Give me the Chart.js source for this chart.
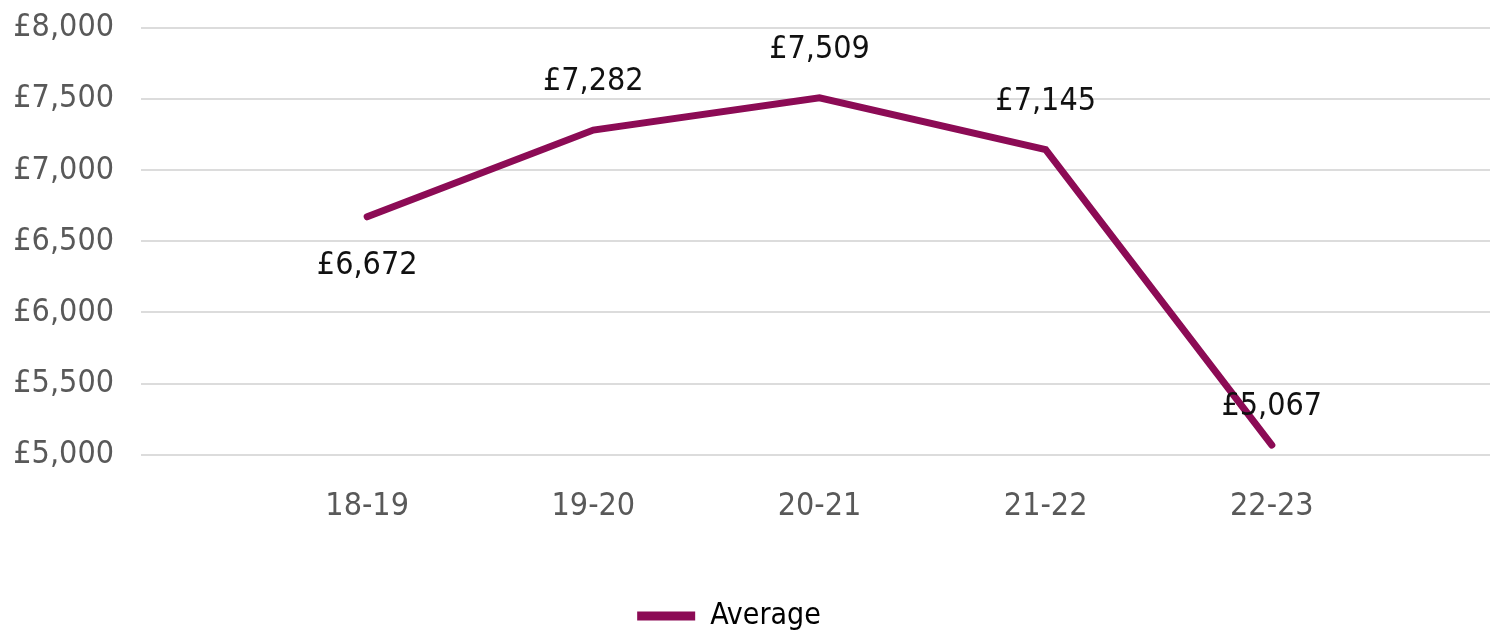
<!DOCTYPE html>
<html>
<head>
<meta charset="utf-8">
<script src="https://cdn.jsdelivr.net/npm/chart.js@4"></script>
<style>
  html, body { margin: 0; padding: 0; background: #ffffff; overflow: hidden; }
  #wrap { width: 1500px; height: 633px; position: relative; }
  canvas { display: block; }
</style>
</head>
<body>
<div id="wrap"><canvas id="c" width="1500" height="633"></canvas></div>
<script>
// ---- data ----
const categories = ['18-19', '19-20', '20-21', '21-22', '22-23'];
const averageValues = [6672, 7282, 7509, 7145, 5067];
const yTicks = [5000, 5500, 6000, 6500, 7000, 7500, 8000];
const seriesName = 'Average';

// ---- styling ----
const FONT = "'Liberation Sans Narrow', 'DejaVu Sans Condensed', 'Arial Narrow', sans-serif";
const LINE_COLOR = '#8C0B55';
const labelPlacement = ['below', 'above', 'above', 'above', 'above'];

// padded category axis: one empty slot each side
const xLabels = [''].concat(categories, ['']);
const yData = [null].concat(averageValues, [null]);

const fmt = v => '£' + v.toLocaleString('en-GB');

const dataLabelPlugin = {
  id: 'valueLabels',
  afterLayout(chart) {
    const lg = chart.legend;
    if (lg) {
      lg.left -= 20; lg.right -= 20;
      lg.top += 8; lg.bottom += 8;
    }
  },
  afterDatasetsDraw(chart) {
    const meta = chart.getDatasetMeta(0);
    const ctx = chart.ctx;
    ctx.save();
    ctx.font = '32px ' + FONT;
    ctx.fillStyle = '#111111';
    ctx.textAlign = 'center';
    ctx.textBaseline = 'middle';
    meta.data.forEach((pt, i) => {
      const v = yData[i];
      if (v == null) return;
      const k = i - 1;
      let dy = labelPlacement[k] === 'below' ? 49 : -48;
      if (k === categories.length - 1) dy = -38;
      ctx.fillText(fmt(v), pt.x, pt.y + dy);
    });
    ctx.restore();
  }
};

new Chart(document.getElementById('c'), {
  type: 'line',
  data: {
    labels: xLabels,
    datasets: [{
      label: seriesName,
      data: yData,
      borderColor: LINE_COLOR,
      backgroundColor: LINE_COLOR,
      borderWidth: 7,
      pointRadius: 0,
      pointHoverRadius: 0,
      tension: 0,
      borderJoinStyle: 'miter',
      borderCapStyle: 'round'
    }]
  },
  options: {
    responsive: false,
    maintainAspectRatio: false,
    animation: false,
    layout: { padding: { top: 28, right: 2, left: 0, bottom: 0 } },
    plugins: {
      tooltip: { enabled: false },
      legend: {
        position: 'bottom',
        labels: {
          font: { family: FONT, size: 30, lineHeight: 1 },
          color: '#333333',
          boxWidth: 58,
          boxHeight: 9,
          padding: 0,
          generateLabels: (chart) => [{
            text: seriesName,
            fillStyle: LINE_COLOR,
            strokeStyle: LINE_COLOR,
            lineWidth: 0,
            datasetIndex: 0,
            hidden: false
          }]
        }
      }
    },
    scales: {
      x: {
        grid: { display: false, drawTicks: false },
        border: { display: false },
        ticks: {
          font: { family: FONT, size: 32 },
          color: '#595959',
          padding: 33,
          autoSkip: false,
          maxRotation: 0
        },
        afterFit: (scale) => {
          scale.height += 34;
          scale.paddingLeft = 0; scale.paddingRight = 0;
        }
      },
      y: {
        min: 5000,
        max: 8000,
        afterBuildTicks: (scale) => { scale.ticks = yTicks.map(v => ({ value: v })); },
        grid: { color: '#dcdcdc', lineWidth: 2, drawTicks: false },
        border: { display: false },
        ticks: {
          font: { family: FONT, size: 32 },
          color: '#595959',
          padding: 27,
          callback: (v) => fmt(v)
        },
        afterFit: (scale) => {
          scale.width = 141;
          scale.paddingTop = 0; scale.paddingBottom = 0;
        }
      }
    }
  },
  plugins: [dataLabelPlugin]
});
</script>
</body>
</html>
